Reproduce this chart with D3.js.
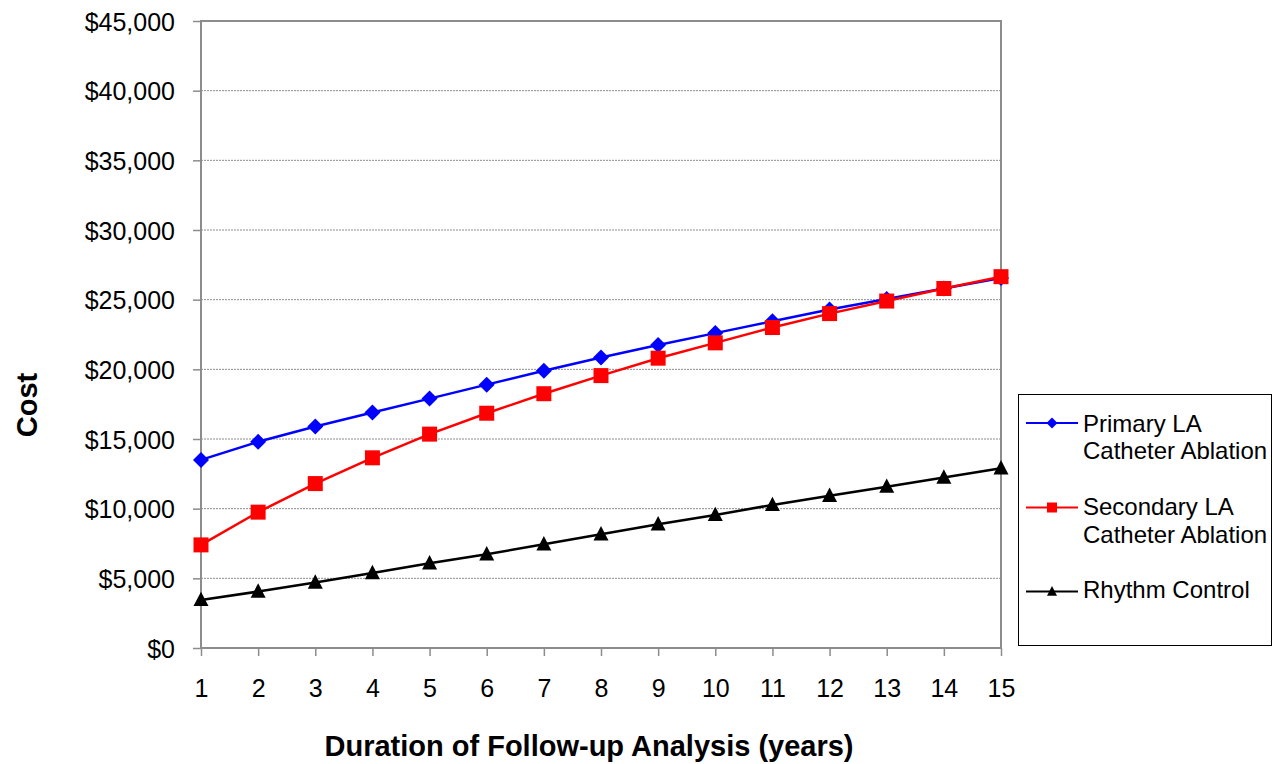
<!DOCTYPE html>
<html><head><meta charset="utf-8">
<script src="https://cdn.jsdelivr.net/npm/d3@7"></script>
<style>body{margin:0;background:#fff}svg{display:block}text{font-family:"Liberation Sans",Arial,sans-serif}</style>
</head><body><svg id="c" width="1273" height="764"></svg>
<script>
const years = [1,2,3,4,5,6,7,8,9,10,11,12,13,14,15];
const primary = [13500,14800,15900,16900,17900,18900,19900,20850,21750,22600,23450,24300,25050,25800,26550];
const secondary = [7400,9750,11800,13650,15350,16850,18250,19550,20800,21900,23000,24000,24900,25800,26650];
const rhythm = [3450,4050,4700,5380,6080,6730,7440,8160,8880,9550,10270,10930,11580,12230,12900];
const yTicks = [0,5000,10000,15000,20000,25000,30000,35000,40000,45000];
const seriesNames = [["Primary LA","Catheter Ablation"],["Secondary LA","Catheter Ablation"],["Rhythm Control"]];
const colors = ["#0000ff","#ff0000","#000000"];
const shapes = ["diamond","square","triangle"];

const svg = d3.select("#c");
const L=201, R=1001, T=21, B=648;
const x = d3.scaleLinear().domain([1,15]).range([L,R]);
const y = d3.scaleLinear().domain([0,45000]).range([B,T]);

// gridlines
svg.append("g").selectAll("line").data(yTicks.filter(d=>d>0&&d<45000)).join("line")
  .attr("x1",L).attr("x2",R).attr("y1",d=>y(d)).attr("y2",d=>y(d))
  .attr("stroke","#8c8c8c").attr("stroke-width",1).attr("stroke-dasharray","2,1");

// frame
svg.append("rect").attr("x",L).attr("y",T).attr("width",R-L).attr("height",B-T)
  .attr("fill","none").attr("stroke","#8c8c8c").attr("stroke-width",2);

// y axis
const yAxis = d3.axisLeft(y).tickValues(yTicks).tickSize(8).tickPadding(18)
  .tickFormat(d=>"$"+d3.format(",")(d));
const gy = svg.append("g").attr("transform",`translate(${L},0)`).call(yAxis);
gy.select(".domain").remove();
gy.selectAll(".tick line").attr("stroke","#8c8c8c").attr("stroke-width",1.5);
gy.selectAll("text").attr("font-size",25).attr("fill","#000").attr("dy","0.36em")
  .attr("font-family","Liberation Sans, Arial, sans-serif");

// x axis
const xAxis = d3.axisBottom(x).tickValues(years).tickSize(8).tickPadding(23).tickFormat(d3.format("d"));
const gx = svg.append("g").attr("transform",`translate(0,${B})`).call(xAxis);
gx.select(".domain").remove();
gx.selectAll(".tick line").attr("stroke","#8c8c8c").attr("stroke-width",1.5);
gx.selectAll("text").attr("font-size",25).attr("fill","#000")
  .attr("font-family","Liberation Sans, Arial, sans-serif");

// titles
svg.append("text").attr("x",589).attr("y",756).attr("text-anchor","middle")
  .attr("font-size",29).attr("font-weight","bold").text("Duration of Follow-up Analysis (years)");
svg.append("text").attr("transform","translate(37,405) rotate(-90)").attr("text-anchor","middle")
  .attr("font-size",29).attr("font-weight","bold").text("Cost");

function markerPath(shape, s){
  if(shape==="diamond") return `M0,${-s}L${s},0L0,${s}L${-s},0Z`;
  if(shape==="square") return `M${-s},${-s}H${s}V${s}H${-s}Z`;
  const h = s*1.1;
  return `M0,${-h}L${s},${h*0.75}L${-s},${h*0.75}Z`;
}
const data = [primary, secondary, rhythm];
const line = d3.line().x((d,i)=>x(years[i])).y(d=>y(d));
data.forEach((vals,k)=>{
  const g = svg.append("g");
  g.append("path").datum(vals).attr("d",line).attr("fill","none")
    .attr("stroke",colors[k]).attr("stroke-width",2.5);
  const s = k===0?8:7.5;
  g.selectAll("path.m").data(vals).join("path").attr("class","m")
    .attr("transform",(d,i)=>`translate(${x(years[i])},${y(d)})`)
    .attr("d",markerPath(shapes[k],s)).attr("fill",colors[k]);
});

// legend
svg.append("rect").attr("x",1018.5).attr("y",394.5).attr("width",253).attr("height",251)
  .attr("fill","#fff").attr("stroke","#000").attr("stroke-width",1);
const rows = [423,507.5,591.5];
const firstBase = [431.7,515,598];
rows.forEach((ly,k)=>{
  svg.append("line").attr("x1",1026).attr("x2",1078).attr("y1",ly).attr("y2",ly)
    .attr("stroke",colors[k]).attr("stroke-width",2);
  svg.append("path").attr("transform",`translate(1052,${ly})`)
    .attr("d",markerPath(shapes[k],k===0?5.5:5)).attr("fill",colors[k]);
  const t = svg.append("text").attr("x",1083).attr("y",firstBase[k]).attr("font-size",24).attr("fill","#000");
  seriesNames[k].forEach((s,j)=>{
    t.append("tspan").attr("x",1083).attr("dy",j===0?0:27.5).text(s);
  });
});
</script></body></html>
